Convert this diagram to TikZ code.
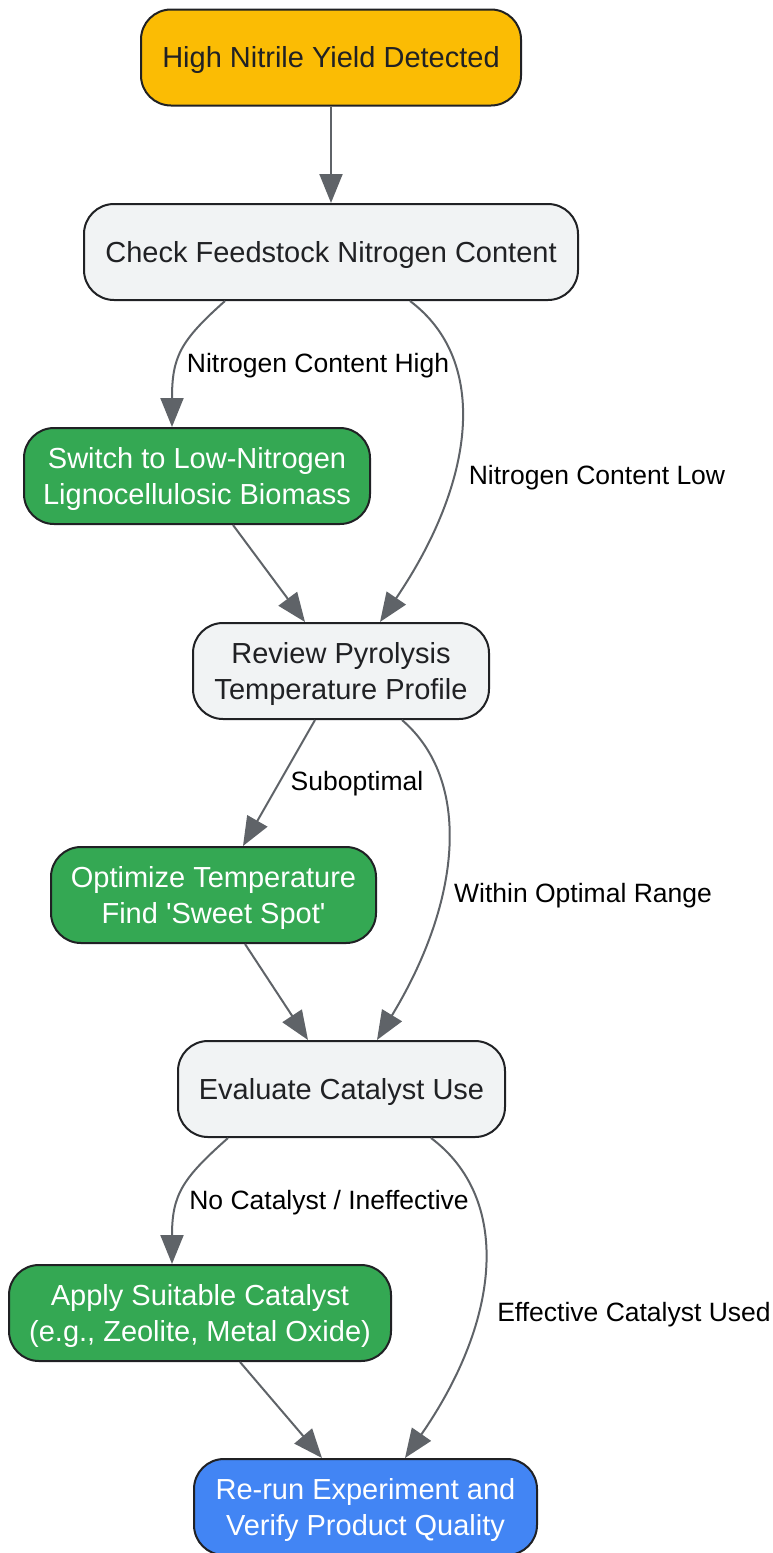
\documentclass[tikz,border=0pt]{standalone}
\usepackage{fontspec}
\setmainfont{Liberation Sans}
\usetikzlibrary{arrows.meta}
\definecolor{startyellow}{HTML}{FBBC04}
\definecolor{stepgray}{HTML}{F1F3F4}
\definecolor{fixgreen}{HTML}{34A853}
\definecolor{endblue}{HTML}{4285F4}
\definecolor{edgegray}{HTML}{5F6368}
\definecolor{textdark}{HTML}{202124}
\newcommand{\boxstrut}{\rule[-6.2pt]{0pt}{32.4pt}}
\newcommand{\topstrut}{\rule{0pt}{27pt}}
\begin{document}
\begin{tikzpicture}[x=1pt,y=-1pt]
        \tikzset{box/.style = {draw=textdark,line width=2pt,rounded corners=30pt,align=center,inner sep=0pt,minimum height=96pt,font=\fontsize{29}{36}\selectfont,execute at begin node=\boxstrut,execute at end node=\boxstrut}}
        \tikzset{edge/.style = {draw=edgegray,line width=2pt,-{Triangle[length=29pt,width=23pt]}}}
        \tikzset{elabel/.style = {font=\fontsize{26.5}{32}\selectfont,text=black}}
        \useasboundingbox (0,0) rectangle (773,1553);
        % boxes down the middle
        \node[box,fill=startyellow,text=textdark,minimum width=380pt] (detect) at (331,57.5) {High Nitrile Yield Detected};
        \node[box,fill=stepgray,text=textdark,minimum width=494pt] (check) at (331,252) {Check Feedstock Nitrogen Content};
        \node[box,fill=fixgreen,text=white,minimum width=346pt] (switch) at (197,476) {\topstrut Switch to Low-Nitrogen\\Lignocellulosic Biomass};
        \node[box,fill=stepgray,text=textdark,minimum width=296pt] (review) at (341,671) {\topstrut Review Pyrolysis\\Temperature Profile};
        \node[box,fill=fixgreen,text=white,minimum width=325pt] (optimize) at (213.5,895) {\topstrut Optimize Temperature\\Find \textquotesingle Sweet Spot\textquotesingle};
        \node[box,fill=stepgray,text=textdark,minimum width=327pt] (evaluate) at (341.5,1089) {Evaluate Catalyst Use};
        \node[box,fill=fixgreen,text=white,minimum width=382pt] (apply) at (200,1313) {\topstrut Apply Suitable Catalyst\\(e.g., Zeolite, Metal Oxide)};
        \node[box,fill=endblue,text=white,minimum width=343pt] (rerun) at (365.5,1507) {\topstrut Re-run Experiment and\\Verify Product Quality};
        % edge labels
        \node[elabel] (lhigh) at (318,366) {Nitrogen Content High};
        \node[elabel] (llow) at (597,478) {Nitrogen Content Low};
        \node[elabel] (lsub) at (357,784) {Suboptimal};
        \node[elabel] (lwithin) at (583,896) {Within Optimal Range};
        \node[elabel] (lnocat) at (329,1203) {No Catalyst / Ineffective};
        \node[elabel] (leffect) at (634,1315) {Effective Catalyst Used};
        % edges
        \draw[edge] (detect) -- (check);
        \draw[edge] ([xshift=-106pt]check.south) .. controls +(-45,40) and +(0,-70) .. ([xshift=-25pt]switch.north);
        \draw[edge] ([xshift=79pt]check.south) .. controls +(80,60) and +(95,-140) .. ([xshift=39pt]review.north);
        \draw[edge] ([xshift=36pt]switch.south) -- ([xshift=-36pt]review.north);
        \draw[edge] ([xshift=-26pt]review.south) -- ([xshift=29.5pt]optimize.north);
        \draw[edge] ([xshift=61pt]review.south) .. controls +(70,60) and +(85,-140) .. ([xshift=35.5pt]evaluate.north);
        \draw[edge] ([xshift=31.5pt]optimize.south) -- ([xshift=-33.5pt]evaluate.north);
        \draw[edge] ([xshift=-113.5pt]evaluate.south) .. controls +(-45,40) and +(0,-70) .. ([xshift=-28pt]apply.north);
        \draw[edge] ([xshift=89.5pt]evaluate.south) .. controls +(80,60) and +(97,-140) .. ([xshift=39.5pt]rerun.north);
        \draw[edge] ([xshift=40pt]apply.south) -- ([xshift=-43.5pt]rerun.north);
        \end{tikzpicture}
\end{document}
